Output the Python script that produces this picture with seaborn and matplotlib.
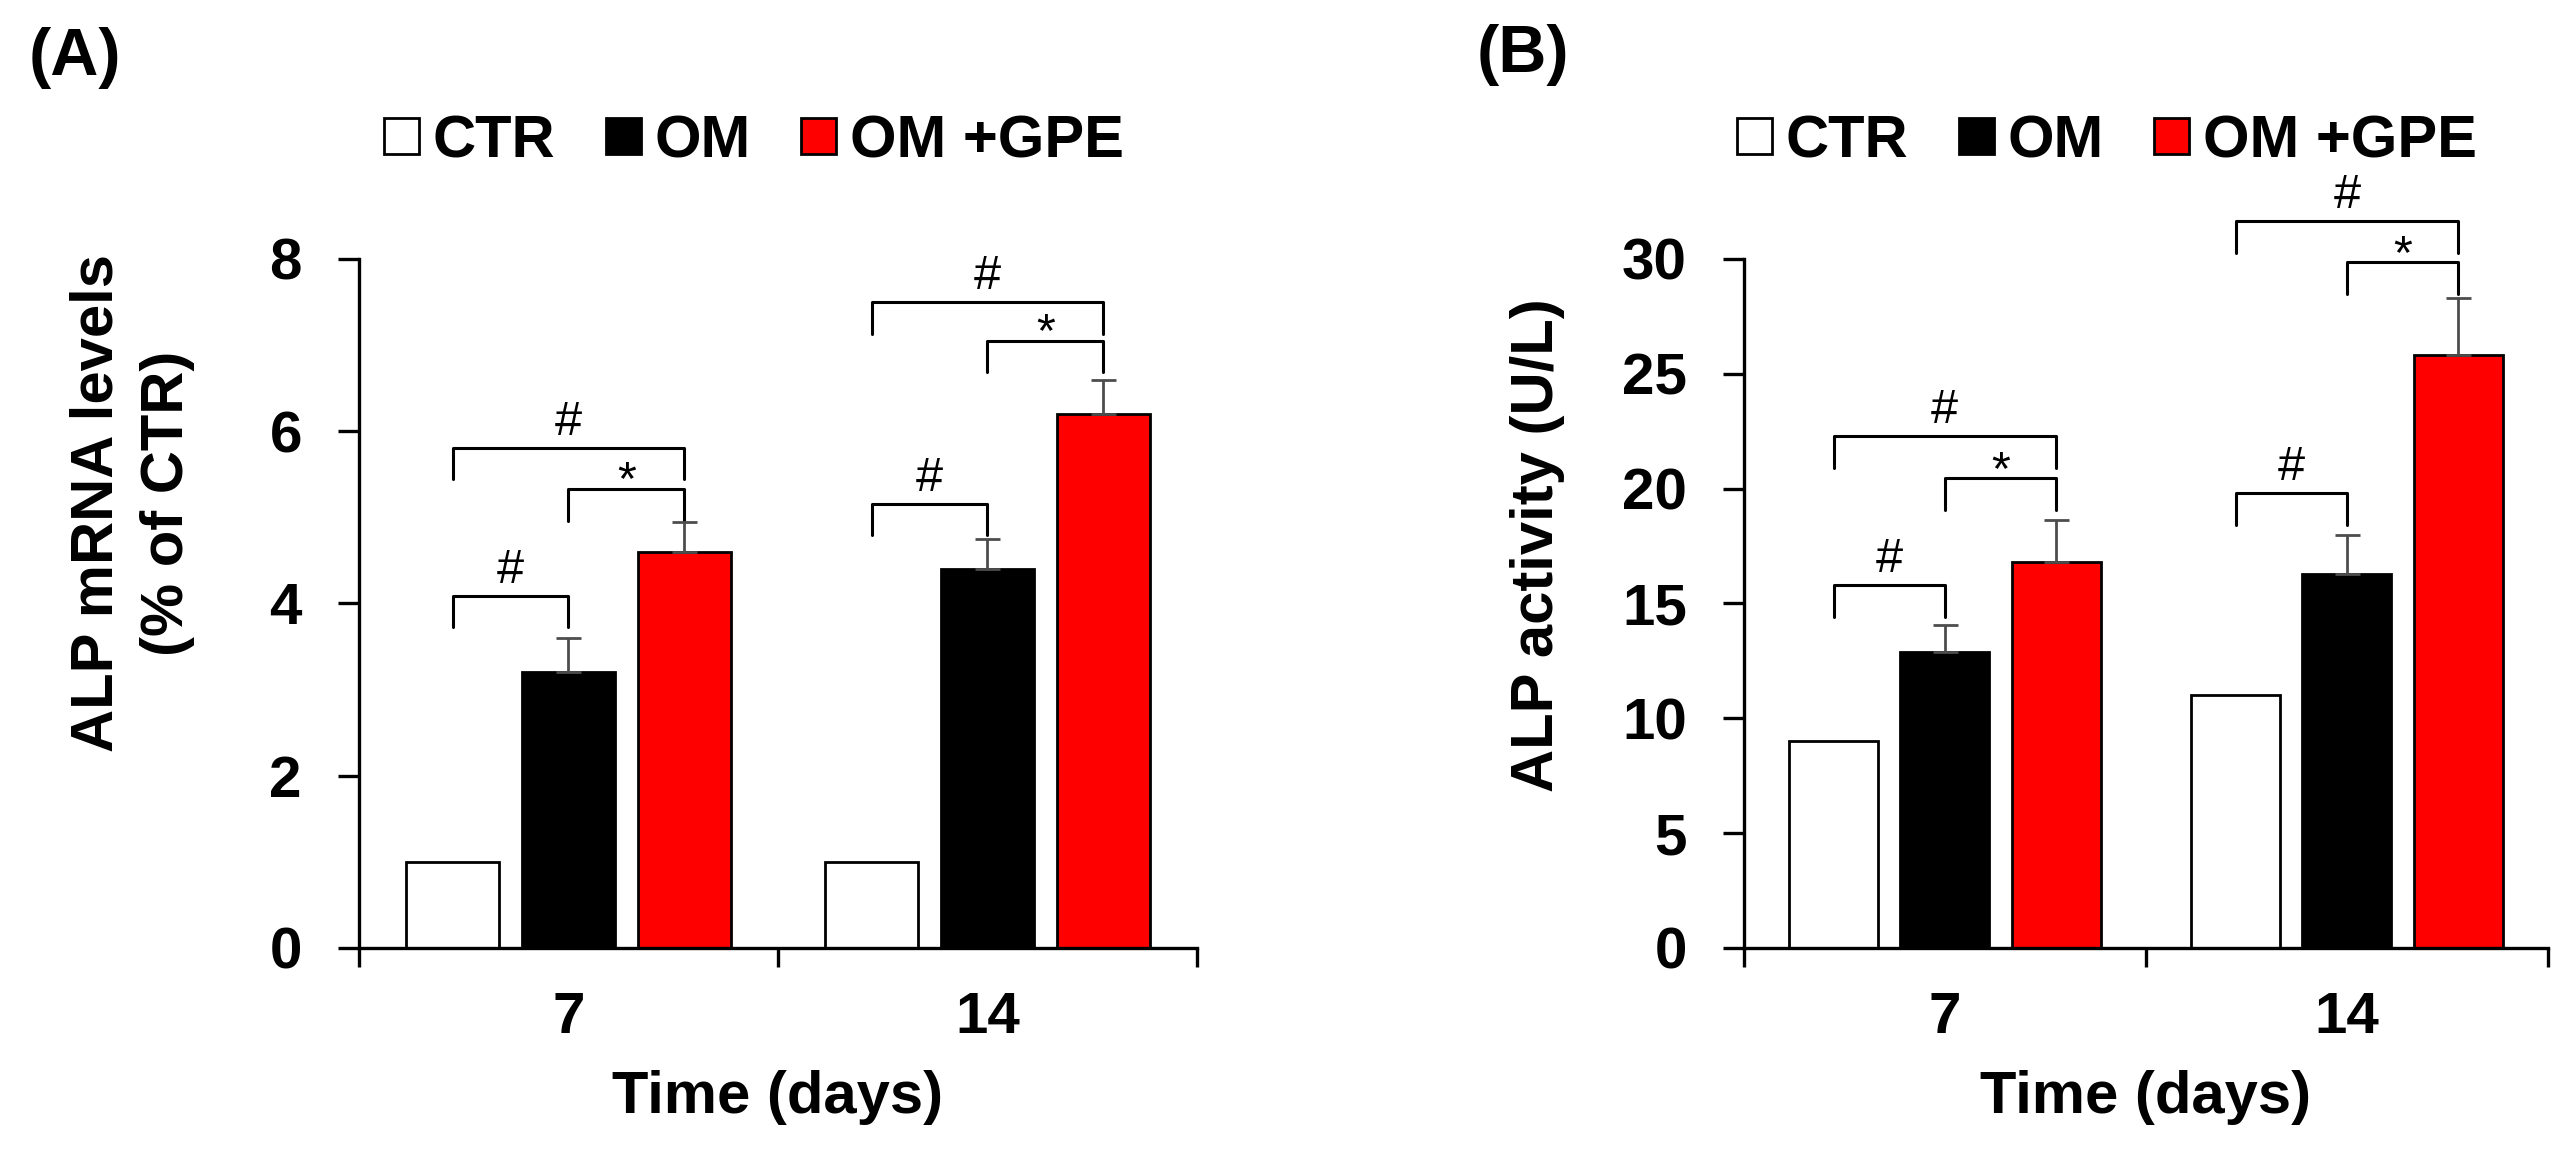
import numpy as np
import pandas as pd
import seaborn as sns
import matplotlib.pyplot as plt
from matplotlib.patches import Patch

sns.set_style("ticks")
plt.rcParams["font.family"] = ["Liberation Sans", "DejaVu Sans"]
plt.rcParams.update({"text.color": "black", "axes.labelcolor": "black",
                     "xtick.color": "black", "ytick.color": "black",
                     "axes.edgecolor": "black"})

# data
days = ["7", "14"]
groups = ["CTR", "OM", "OM +GPE"]
colors = ["white", "black", "#ff0000"]

mrna_mean = {"CTR": [1.0, 1.0], "OM": [3.2, 4.4], "OM +GPE": [4.6, 6.2]}
mrna_err = {"CTR": [0.0, 0.0], "OM": [0.4, 0.35], "OM +GPE": [0.35, 0.4]}
act_mean = {"CTR": [9.0, 11.0], "OM": [12.9, 16.3], "OM +GPE": [16.8, 25.8]}
act_err = {"CTR": [0.0, 0.0], "OM": [1.15, 1.7], "OM +GPE": [1.85, 2.5]}

# significance brackets: (day index, group a, group b, bracket top, label)
mrna_sig = [(0, 0, 1, 4.09, "#"), (0, 1, 2, 5.33, "*"), (0, 0, 2, 5.81, "#"),
            (1, 0, 1, 5.16, "#"), (1, 1, 2, 7.05, "*"), (1, 0, 2, 7.50, "#")]
act_sig = [(0, 0, 1, 15.8, "#"), (0, 1, 2, 20.45, "*"), (0, 0, 2, 22.3, "#"),
           (1, 0, 1, 19.8, "#"), (1, 1, 2, 29.85, "*"), (1, 0, 2, 31.65, "#")]


def to_long(means):
    rows = []
    for g in groups:
        for d, v in zip(days, means[g]):
            rows.append({"day": d, "group": g, "value": v})
    return pd.DataFrame(rows)


def panel(ax, means, errs, sig, ymax, ystep, ylabel, label_xy):
    df = to_long(means)
    sns.barplot(data=df, x="day", y="value", hue="group", order=days,
                hue_order=groups, palette=colors, saturation=1,
                edgecolor="black", linewidth=2, width=0.83, gap=0.2,
                errorbar=None, legend=False, ax=ax)
    centers = {}
    for gi, (g, cont) in enumerate(zip(groups, ax.containers)):
        for di, bar in enumerate(cont):
            cx = bar.get_x() + bar.get_width() / 2
            centers[(di, gi)] = cx
            e = errs[g][di]
            if e > 0:
                ax.errorbar(cx, bar.get_height(), yerr=[[0], [e]], fmt="none",
                            ecolor="#4d4d4d", elinewidth=2, capsize=9,
                            capthick=2, zorder=3)
    leg = 0.046 * ymax
    for di, a, b, top, txt in sig:
        x1, x2 = centers[(di, a)], centers[(di, b)]
        ax.plot([x1, x1, x2, x2], [top - leg, top, top, top - leg],
                color="black", lw=2.2, clip_on=False)
        off = -11 if txt == "*" else 2
        ax.annotate(txt, ((x1 + x2) / 2, top), xytext=(0, off),
                    textcoords="offset points", ha="center", va="bottom",
                    fontsize=35, annotation_clip=False)

    ax.set_xlim(-0.5, 1.5)
    ax.set_ylim(0, ymax)
    ax.set_yticks(np.arange(0, ymax + 0.1, ystep))
    ax.set_xticks([-0.5, 0.5, 1.5], minor=True)
    sns.despine(ax=ax)
    for s in ["left", "bottom"]:
        ax.spines[s].set_linewidth(2.4)
    ax.tick_params(axis="y", length=15, width=2.4, pad=26, labelsize=42)
    ax.tick_params(axis="x", which="major", length=0, pad=31, labelsize=42)
    ax.tick_params(axis="x", which="minor", length=14, width=2.4)
    for t in ax.get_xticklabels() + ax.get_yticklabels():
        t.set_fontweight("bold")
    ax.set_xlabel("Time (days)", fontsize=43, fontweight="bold", labelpad=18)
    ax.set_ylabel(ylabel, fontsize=43, fontweight="bold", linespacing=1.35)
    ax.yaxis.set_label_coords(*label_xy)


fig = plt.figure(figsize=(25.73, 11.65), dpi=100)
axA = fig.add_axes([0.1395, 0.1863, 0.3257, 0.5914])
axB = fig.add_axes([0.6777, 0.1863, 0.3126, 0.5914])

panel(axA, mrna_mean, mrna_err, mrna_sig, 8, 2,
      "ALP mRNA levels\n(% of CTR)", (-0.196, 0.646))
panel(axB, act_mean, act_err, act_sig, 30, 5,
      "ALP activity (U/L)", (-0.222, 0.585))

handles = [Patch(facecolor=c, edgecolor="black", linewidth=2) for c in colors]
for cx in [754 / 2573, 2107 / 2573]:
    fig.legend(handles, groups, loc="center", bbox_to_anchor=(cx, 1 - 142 / 1165),
               ncol=3, frameon=False, handlelength=0.58, handleheight=0.55,
               handletextpad=0.23, columnspacing=0.85, borderaxespad=0,
               prop={"size": 43, "weight": "bold"})

fig.text(29 / 2573, 1 - 27 / 1165, "(A)", fontsize=48, fontweight="bold",
         ha="left", va="top")
fig.text(1477 / 2573, 1 - 24 / 1165, "(B)", fontsize=48, fontweight="bold",
         ha="left", va="top")

fig.savefig("out.png", dpi=100)
